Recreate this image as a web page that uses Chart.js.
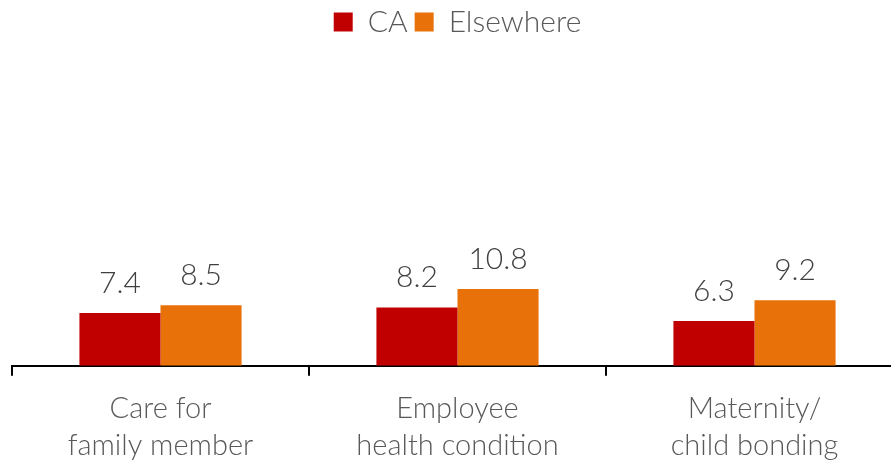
<!DOCTYPE html>
<html>
<head>
<meta charset="utf-8">
<script src="https://cdn.jsdelivr.net/npm/chart.js@4/dist/chart.umd.min.js"></script>
<style>
  html, body { margin: 0; padding: 0; background: #fff; overflow: hidden; }
  #wrap { position: relative; width: 903px; height: 478px; }
</style>
</head>
<body>
<div id="wrap"><canvas id="c"></canvas></div>
<script>
const categories = [['Care for', 'family member'], ['Employee', 'health condition'], ['Maternity/', 'child bonding']];
const seriesNames = ['CA', 'Elsewhere'];
const caValues = [7.4, 8.2, 6.3];
const elsewhereValues = [8.5, 10.8, 9.2];

const FONT = 'Lato, "Open Sans", sans-serif';
const TEXT = '#595959';

const valueLabels = {
  id: 'valueLabels',
  afterDatasetsDraw(chart) {
    const ctx = chart.ctx;
    ctx.save();
    ctx.font = '300 30px ' + FONT;
    ctx.fillStyle = '#404040';
    ctx.textAlign = 'center';
    ctx.textBaseline = 'alphabetic';
    chart.data.datasets.forEach((ds, i) => {
      const meta = chart.getDatasetMeta(i);
      meta.data.forEach((bar, j) => {
        ctx.fillText(ds.data[j].toFixed(1), bar.x, bar.y - 20);
      });
    });
    ctx.restore();
  }
};

new Chart(document.getElementById('c'), {
  type: 'bar',
  data: {
    labels: categories,
    datasets: [
      { label: seriesNames[0], data: caValues, backgroundColor: '#C00000' },
      { label: seriesNames[1], data: elsewhereValues, backgroundColor: '#E8710A' }
    ]
  },
  options: {
    responsive: true,
    maintainAspectRatio: false,
    animation: false,
    layout: { padding: { left: 12, right: 0, top: 0, bottom: 0 } },
    datasets: { bar: { categoryPercentage: 0.546, barPercentage: 1.0 } },
    plugins: {
      tooltip: { enabled: false },
      legend: {
        position: 'top',
        labels: {
          boxWidth: 19, boxHeight: 19, padding: 7,
          color: TEXT,
          font: { family: FONT, size: 30, weight: '300' }
        }
      }
    },
    scales: {
      x: {
        offset: true,
        grid: { display: true, offset: true, drawOnChartArea: false, drawTicks: true, tickLength: 10, color: '#000', lineWidth: 2 },
        border: { display: true, color: '#000', width: 2 },
        ticks: { color: TEXT, padding: 14, maxRotation: 0, autoSkip: false, font: { family: FONT, size: 29, weight: '300', lineHeight: 1.28 } }
      },
      y: {
        display: false,
        min: 0,
        max: 44.8
      }
    }
  },
  plugins: [valueLabels]
});
</script>
</body>
</html>
